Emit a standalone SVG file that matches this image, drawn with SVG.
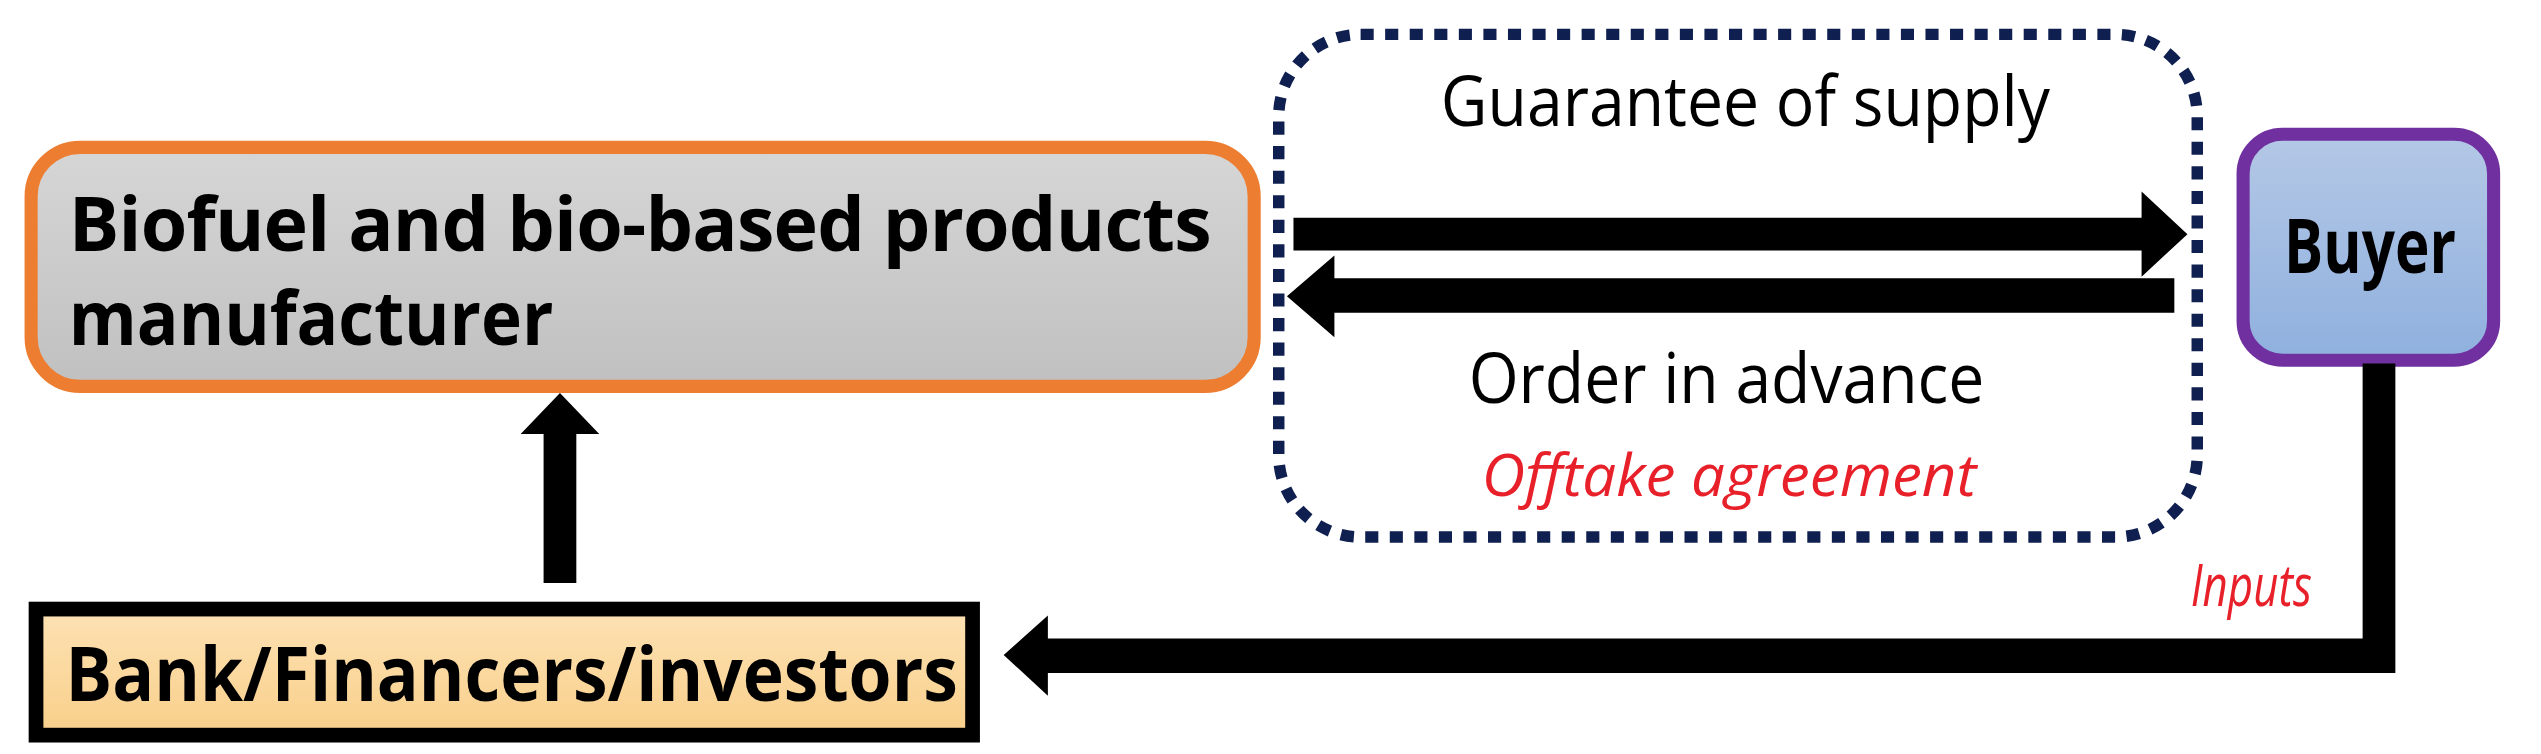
<svg xmlns="http://www.w3.org/2000/svg" width="2541" height="754" viewBox="0 0 2541 754">
<defs>
<linearGradient id="gg" x1="0" y1="0" x2="0" y2="1"><stop offset="0" stop-color="#d6d6d6"/><stop offset="1" stop-color="#c0c0c0"/></linearGradient>
<linearGradient id="bg" x1="0" y1="0" x2="0" y2="1"><stop offset="0" stop-color="#b4c8e6"/><stop offset="1" stop-color="#8fb0de"/></linearGradient>
<linearGradient id="og" x1="0" y1="0" x2="0" y2="1"><stop offset="0" stop-color="#fde2b4"/><stop offset="1" stop-color="#f9cf8a"/></linearGradient>
</defs>
<style>
.b{font-family:"Open Sans","Liberation Sans",sans-serif;font-weight:bold;font-size:46px;fill:#000}
.n{font-family:"Open Sans","Liberation Sans",sans-serif;font-size:42px;fill:#000}
.r{font-family:"Open Sans","Liberation Sans",sans-serif;font-style:italic;font-size:36px;fill:#e8202a}
</style>
<rect width="2541" height="754" fill="#fff"/>
<g transform="scale(1.6373)">
<g id="manufacturer">
<rect x="19" y="90" width="747" height="146" rx="30" fill="url(#gg)" stroke="#ed7d31" stroke-width="8"/>
<text class="b" x="42" y="153" textLength="698" lengthAdjust="spacing">Biofuel and bio-based products</text>
<text class="b" x="42" y="211" textLength="296" lengthAdjust="spacingAndGlyphs">manufacturer</text>
</g>
<g id="agreement">
<rect x="781" y="21" width="561" height="307" rx="50" fill="none" stroke="#0f1f4f" stroke-width="7" stroke-dasharray="8 7"/>
<text class="n" x="880" y="77" textLength="372" lengthAdjust="spacingAndGlyphs">Guarantee of supply</text>
<text class="n" x="897" y="246" textLength="315" lengthAdjust="spacingAndGlyphs">Order in advance</text>
<text class="r" x="905" y="303" textLength="302" lengthAdjust="spacingAndGlyphs">Offtake agreement</text>
</g>
<g id="buyer">
<rect x="1370" y="82" width="153" height="138" rx="24" fill="url(#bg)" stroke="#7030a0" stroke-width="8"/>
<text class="b" x="1395" y="167" textLength="105" lengthAdjust="spacingAndGlyphs">Buyer</text>
</g>
<g id="bank">
<rect x="22" y="372" width="572" height="77" fill="url(#og)" stroke="#000" stroke-width="9"/>
<text class="b" x="40" y="428" textLength="545" lengthAdjust="spacingAndGlyphs">Bank/Financers/investors</text>
</g>
<g id="connectors" fill="#000">
<polygon points="790,133 1308,133 1308,117 1336,143 1308,169 1308,153 790,153"/>
<polygon points="1328,170 815,170 815,156 786,181 815,206 815,191 1328,191"/>
<polygon points="1443,222 1463,222 1463,411 640,411 640,425 613,400 640,376 640,390 1443,390"/>
<polygon points="332,356 352,356 352,265 366,265 342,240 318,265 332,265"/>
<text class="r" x="1338" y="370" textLength="74" lengthAdjust="spacingAndGlyphs">Inputs</text>
</g>
</g>
</svg>
